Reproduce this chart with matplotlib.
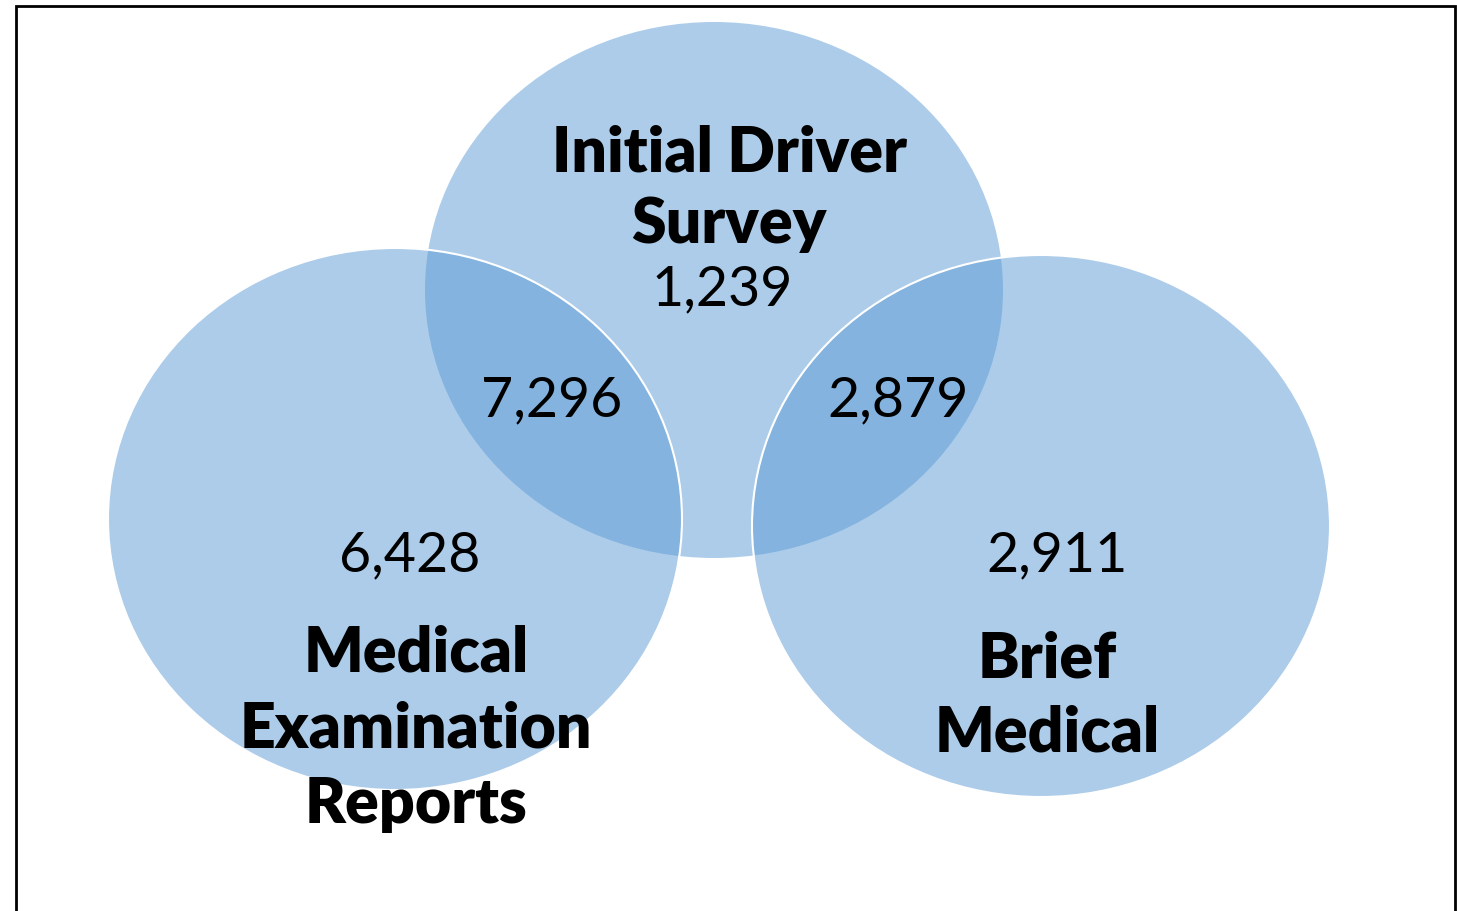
import matplotlib
matplotlib.use("Agg")
import matplotlib.pyplot as plt
from matplotlib.patches import Ellipse

# ---- data ----
set_names = [["Initial Driver", "Survey"],
             ["Medical", "Examination", "Reports"],
             ["Brief", "Medical"]]
only_counts = [1239, 6428, 2911]
overlap_names = ["Initial & Medical Examination", "Initial & Brief Medical"]
overlap_counts = [7296, 2879]

# ---- layout (pixel coordinates, y downward) ----
W, H = 1457, 911
ellipses = [  # cx, cy, width, height
    (714, 290, 578, 536),
    (395, 519, 574, 542),
    (1041, 526, 578, 542),
]
name_x = [729, 416, 1047]
name_baselines = [[172, 243], [672, 747, 823], [677, 752]]
only_pos = [(722, 290), (410, 556), (1057, 556)]
overlap_pos = [(552, 401), (898, 401)]

FACE = (91/255, 155/255, 213/255, 0.5)
FONT = ["Lato", "DejaVu Sans"]

fig = plt.figure(figsize=(W/100, H/100), dpi=100)
ax = fig.add_axes([0, 0, 1, 1])
ax.set_xlim(0, W)
ax.set_ylim(H, 0)
ax.axis("off")

for i, (cx, cy, w, h) in enumerate(ellipses):
    ec = "none" if i == 0 else "white"
    ax.add_patch(Ellipse((cx, cy), w, h, facecolor=FACE, edgecolor=ec,
                         linewidth=1.5, zorder=1 + i))

# frame (left, top, right)
ax.plot([16, 16, 1455, 1455], [H + 5, 6, 6, H + 5], color="black", lw=2,
        solid_joinstyle="miter", zorder=10, clip_on=False)

for lines, x, ys in zip(set_names, name_x, name_baselines):
    for line, y in zip(lines, ys):
        ax.text(x, y, line, ha="center", va="baseline", fontsize=45,
                fontweight="heavy", family=FONT, zorder=20)

for c, (x, y) in zip(only_counts, only_pos):
    ax.text(x, y, f"{c:,}", ha="center", va="center", fontsize=40,
            family=FONT, zorder=20)

for c, (x, y) in zip(overlap_counts, overlap_pos):
    ax.text(x, y, f"{c:,}", ha="center", va="center", fontsize=40,
            family=FONT, zorder=20)

fig.savefig("out.png", dpi=100, facecolor="white")
